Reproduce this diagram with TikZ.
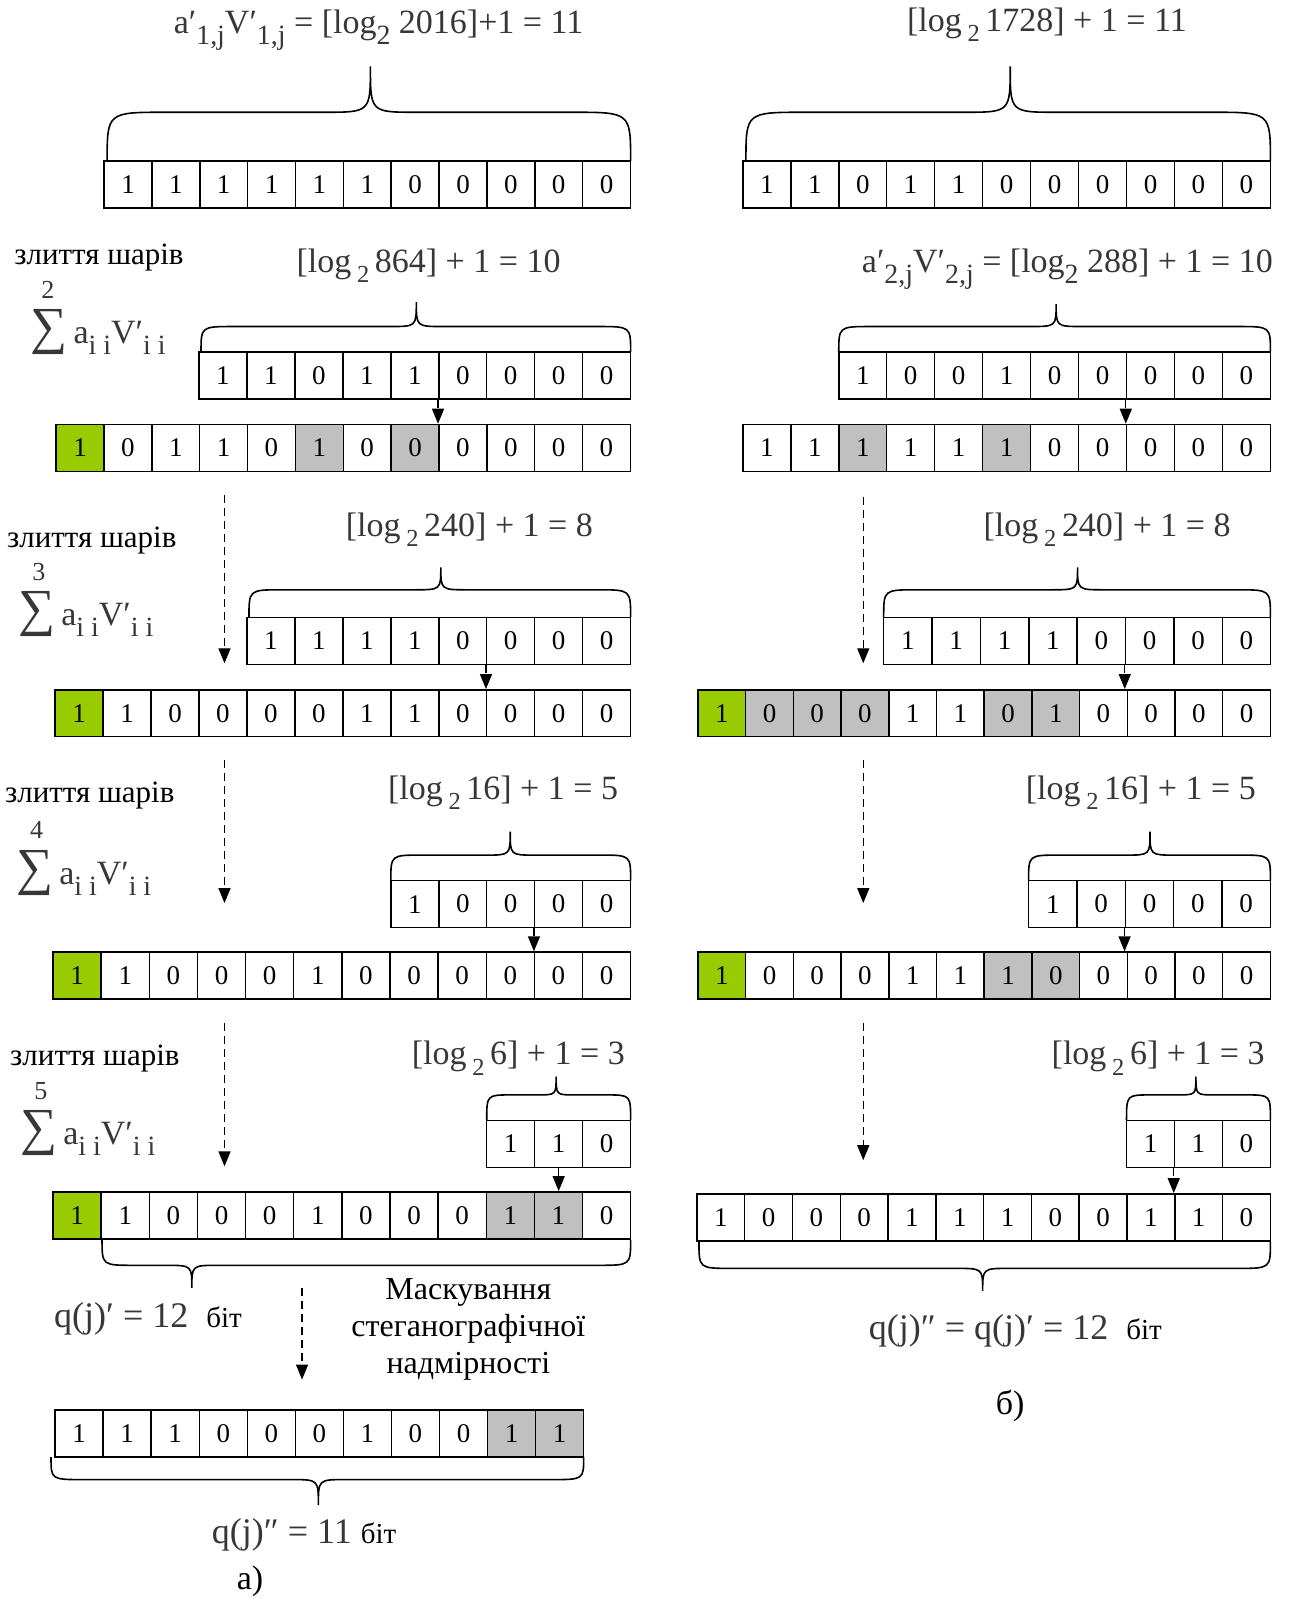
\documentclass[tikz,border=0pt]{standalone}
\usepackage{fontspec}
\usepackage{graphicx}
\setmainfont{Liberation Serif}
\usetikzlibrary{arrows.meta}
\definecolor{cellW}{RGB}{255,255,255}
\definecolor{cellG}{RGB}{153,204,0}
\definecolor{cellS}{RGB}{192,192,192}
\definecolor{fml}{RGB}{55,55,55}
\newcommand\sbs[1]{\raisebox{-0.3em}{\scalebox{0.72}{#1}}}
\newcommand\sbb[1]{\raisebox{-0.32em}{\scalebox{0.82}{#1}}}
\newcommand\logtwo[1]{[log\,\sbs{2}\,#1]}
\newcommand\sumlbl{{\fontsize{52}{52}\selectfont ∑}\,a\sbb{i i}V′\sbb{i i}}
\newcommand\cellrow[5]{%
  \foreach \v/\f [count=\i from 0] in {#5}{%
    \node[cellbox, fill=cell\f, minimum width={#4*1.0206pt}] (#1-\i) at ({#2+#4*(\i+0.5)},{#3+23}) {\v};
  }}
\newcommand\brc[8]{\draw[brcline] (#1,#4) .. controls (#1,#5) .. ({#1+#7},#5) -- ({#3-#8},#5) .. controls (#3,#5) .. (#3,#6) .. controls (#3,#5) .. ({#3+#8},#5) -- ({#2-#7},#5) .. controls (#2,#5) .. (#2,#4);}
\begin{document}
\begin{tikzpicture}[x=1.0206pt,y=-1.0206pt,
  cellbox/.style={draw, line width=1.5pt, minimum height={46*1.0206pt}, inner sep=0pt, font=\fontsize{27}{27}\selectfont},
  fmlnode/.style={font=\fontsize{34}{34}\selectfont, text=fml, inner sep=0pt},
  lbl/.style={font=\fontsize{31}{31}\selectfont, inner sep=0pt},
  brcline/.style={line width=1.6pt},
  dsh/.style={dashed, dash pattern=on 8pt off 5pt, line width=1.4pt, -{Triangle[width=12pt,length=15pt]}}]
\useasboundingbox[fill=white] (0,0) rectangle (1265,1568);

% ---------- rows ----------
\cellrow{L1}{102}{158}{46.9}{1/W,1/W,1/W,1/W,1/W,1/W,0/W,0/W,0/W,0/W,0/W}
\cellrow{R1}{728}{158}{47.0}{1/W,1/W,0/W,1/W,1/W,0/W,0/W,0/W,0/W,0/W,0/W}
\cellrow{L2s}{195}{345}{47.0}{1/W,1/W,0/W,1/W,1/W,0/W,0/W,0/W,0/W}
\cellrow{L2b}{55}{416}{46.9}{1/G,0/W,1/W,1/W,0/W,1/S,0/W,0/S,0/W,0/W,0/W,0/W}
\cellrow{R2s}{822}{345}{47.0}{1/W,0/W,0/W,1/W,0/W,0/W,0/W,0/W,0/W}
\cellrow{R2b}{728}{416}{47.0}{1/W,1/W,1/S,1/W,1/W,1/S,0/W,0/W,0/W,0/W,0/W}
\cellrow{L3s}{242}{605}{47.0}{1/W,1/W,1/W,1/W,0/W,0/W,0/W,0/W}
\cellrow{L3b}{54}{676}{47.0}{1/G,1/W,0/W,0/W,0/W,0/W,1/W,1/W,0/W,0/W,0/W,0/W}
\cellrow{R3s}{866}{605}{47.4}{1/W,1/W,1/W,1/W,0/W,0/W,0/W,0/W}
\cellrow{R3b}{684}{676}{46.75}{1/G,0/S,0/S,0/S,1/W,1/W,0/S,1/S,0/W,0/W,0/W,0/W}
\cellrow{L4s}{383}{863}{47.0}{1/W,0/W,0/W,0/W,0/W}
\cellrow{L4b}{52}{933}{47.17}{1/G,1/W,0/W,0/W,0/W,1/W,0/W,0/W,0/W,0/W,0/W,0/W}
\cellrow{R4s}{1008}{863}{47.4}{1/W,0/W,0/W,0/W,0/W}
\cellrow{R4b}{684}{933}{46.75}{1/G,0/W,0/W,0/W,1/W,1/W,1/S,0/S,0/W,0/W,0/W,0/W}
\cellrow{L5s}{477}{1098}{47.0}{1/W,1/W,0/W}
\cellrow{L5b}{52}{1168}{47.17}{1/G,1/W,0/W,0/W,0/W,1/W,0/W,0/W,0/W,1/S,1/S,0/W}
\cellrow{R5s}{1104}{1098}{47.0}{1/W,1/W,0/W}
\cellrow{R5b}{683}{1170}{46.83}{1/W,0/W,0/W,0/W,1/W,1/W,1/W,0/W,0/W,1/W,1/W,0/W}
\cellrow{L6}{54}{1382}{47.09}{1/W,1/W,1/W,0/W,0/W,0/W,1/W,0/W,0/W,1/S,1/S}

% ---------- braces ----------
\brc{105}{618}{363}{158}{110}{65}{58}{45}
\brc{731}{1245}{990}{158}{110}{65}{58}{45}
\brc{197}{618}{408}{345}{320}{296}{32}{26}
\brc{822}{1245}{1035}{345}{320}{298}{32}{26}
\brc{244}{618}{432}{605}{578}{556}{32}{26}
\brc{866}{1245}{1056}{605}{578}{556}{32}{26}
\brc{383}{618}{500}{863}{838}{815}{30}{24}
\brc{1008}{1245}{1127}{863}{838}{815}{30}{24}
\brc{477}{618}{545}{1098}{1073}{1055}{24}{18}
\brc{1104}{1245}{1172}{1098}{1073}{1055}{24}{18}
\brc{100}{618}{188}{1215}{1240}{1262}{32}{26}
\brc{50}{572}{312}{1428}{1450}{1475}{32}{26}
\brc{685}{1245}{963}{1217}{1243}{1265}{32}{26}

% ---------- formulas ----------
\node[fmlnode] (T1L) at (371,30) {a′\sbb{1,j}V′\sbb{1,j} = [log\sbb{2} 2016]+1 = 11};
\node[fmlnode] (T1R) at (1026,24) {\logtwo{1728} + 1 = 11};
\node[fmlnode] (T2L) at (420,260) {\logtwo{864} + 1 = 10};
\node[fmlnode] (T2R) at (1046,264) {a′\sbb{2,j}V′\sbb{2,j} = [log\sbb{2} 288] + 1 = 10};
\node[fmlnode] (T3L) at (460,519) {\logtwo{240} + 1 = 8};
\node[fmlnode] (T3R) at (1085,519) {\logtwo{240} + 1 = 8};
\node[fmlnode] (T4L) at (493,777) {\logtwo{16} + 1 = 5};
\node[fmlnode] (T4R) at (1118,777) {\logtwo{16} + 1 = 5};
\node[fmlnode] (T5L) at (508,1037) {\logtwo{6} + 1 = 3};
\node[fmlnode] (T5R) at (1135,1037) {\logtwo{6} + 1 = 3};

% ---------- left labels ----------
\node[lbl] (M2) at (97,252) {злиття шарів};
\node[lbl] (M3) at (90,530) {злиття шарів};
\node[lbl] (M4) at (88,780) {злиття шарів};
\node[lbl] (M5) at (93,1037) {злиття шарів};
\node[lbl,text=fml,font=\fontsize{26}{26}\selectfont] (N2) at (47,284) {2};
\node[lbl,text=fml,font=\fontsize{26}{26}\selectfont] (N3) at (38,561) {3};
\node[lbl,text=fml,font=\fontsize{26}{26}\selectfont] (N4) at (36,813) {4};
\node[lbl,text=fml,font=\fontsize{26}{26}\selectfont] (N5) at (40,1069) {5};
\node[lbl,text=fml,anchor=base west,font=\fontsize{34}{34}\selectfont] (S2) at (30,337) {\sumlbl};
\node[lbl,text=fml,anchor=base west,font=\fontsize{34}{34}\selectfont] (S3) at (18,613) {\sumlbl};
\node[lbl,text=fml,anchor=base west,font=\fontsize{34}{34}\selectfont] (S4) at (16,867) {\sumlbl};
\node[lbl,text=fml,anchor=base west,font=\fontsize{34}{34}\selectfont] (S5) at (20,1122) {\sumlbl};

% ---------- bottom texts ----------
\node[fmlnode,font=\fontsize{36}{36}\selectfont] (QL) at (145,1292) {q(j)′ = 12\ \ {\color{black}\fontsize{29}{29}\selectfont біт}};
\node[fmlnode,font=\fontsize{36}{36}\selectfont] (QL2) at (298,1504) {q(j)″ = 11\ {\color{black}\fontsize{29}{29}\selectfont біт}};
\node[fmlnode,font=\fontsize{36}{36}\selectfont] (QR) at (995,1304) {q(j)″ = q(j)′ = 12\ \ {\color{black}\fontsize{29}{29}\selectfont біт}};
\node[lbl,align=center,font=\fontsize{32}{37}\selectfont] (MASK) at (459,1303) {Маскування\\стеганографічної\\надмірності};
\node[lbl,font=\fontsize{34}{34}\selectfont] (CA) at (245,1550) {а)};
\node[lbl,font=\fontsize{34}{34}\selectfont] (CB) at (990,1378) {б)};

% ---------- short arrows ----------
\draw[dsh] (L2s-5.south west) -- (L2s-5.south west |- L2b-8.north);
\draw[dsh] (R2s-6.south west) -- (R2s-6.south west |- R2b-8.north);
\draw[dsh] (L3s-5.south west) -- (L3s-5.south west |- L3b-9.north);
\draw[dsh] (R3s-5.south west) -- (R3s-5.south west |- R3b-9.north);
\draw[dsh] (L4s-3.south west) -- (L4s-3.south west |- L4b-10.north);
\draw[dsh] (R4s-2.south west) -- (R4s-2.south west |- R4b-9.north);
\draw[dsh] (L5s-1.south) -- (L5s-1.south |- L5b-10.north);
\draw[dsh] (R5s-1.south west) -- (R5s-1.south west |- R5b-10.north);

% ---------- long arrows ----------
\coordinate (A1s) at (220,485); \coordinate (A1e) at (220,650);
\coordinate (A2s) at (220,745); \coordinate (A2e) at (220,885);
\coordinate (A3s) at (220,1003); \coordinate (A3e) at (220,1143);
\coordinate (B1s) at (846,487); \coordinate (B1e) at (846,650);
\coordinate (B2s) at (846,745); \coordinate (B2e) at (846,885);
\coordinate (B3s) at (846,1003); \coordinate (B3e) at (846,1137);
\coordinate (C1s) at (296,1262); \coordinate (C1e) at (296,1352);
\draw[dsh] (A1s) -- (A1e);
\draw[dsh] (A2s) -- (A2e);
\draw[dsh] (A3s) -- (A3e);
\draw[dsh] (B1s) -- (B1e);
\draw[dsh] (B2s) -- (B2e);
\draw[dsh] (B3s) -- (B3e);
\draw[dsh] (C1s) -- (C1e);
\end{tikzpicture}
\end{document}
